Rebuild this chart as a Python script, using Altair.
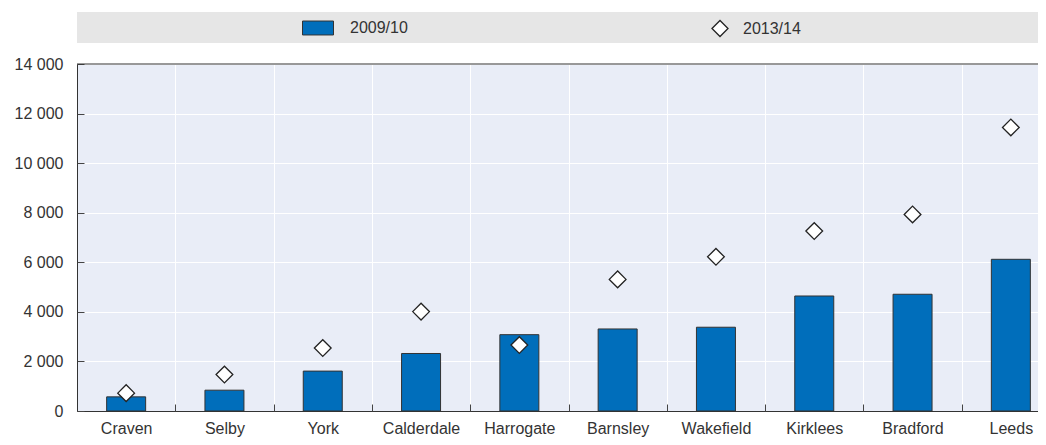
import altair as alt
import pandas as pd

categories = ["Craven", "Selby", "York", "Calderdale", "Harrogate",
              "Barnsley", "Wakefield", "Kirklees", "Bradford", "Leeds"]
values_2009 = [570, 840, 1610, 2320, 3080, 3310, 3380, 4640, 4710, 6120]
values_2013 = [720, 1470, 2540, 4010, 2660, 5310, 6220, 7260, 7930, 11440]
series_names = ["2009/10", "2013/14"]
y_ticks = [0, 2000, 4000, 6000, 8000, 10000, 12000, 14000]

FONT = "Liberation Sans"
BLUE = "#006EBB"
W = 961
H = 347
FULL_W = 983
TOP = 56
BOTTOM = 26

df = pd.DataFrame({
    "cat": categories,
    "v2009": values_2009,
    "v2013": values_2013,
    "s1": series_names[0],
    "s2": series_names[1],
})

xscale = alt.Scale(domain=categories, range=[0, FULL_W], paddingInner=0, paddingOuter=0)
yscale = alt.Scale(domain=[0, 14000], nice=False)
label_expr = "replace(format(datum.value, ','), ',', ' ')"

deco = pd.DataFrame({"a": [0]})
band = alt.Chart(deco).mark_rect(color="#E6E6E6").encode(
    x=alt.value(0), x2=alt.value(W), y=alt.value(-52), y2=alt.value(-21)
)
top_line = alt.Chart(deco).mark_rule(color="#333333", strokeWidth=1).encode(
    x=alt.value(0), x2=alt.value(W), y=alt.value(0)
)

bars = alt.Chart(df).mark_bar(size=39, stroke="#333333", strokeWidth=1).encode(
    x=alt.X("cat:N", scale=xscale, sort=categories,
            axis=alt.Axis(title=None, orient="bottom", tickBand="extent", ticks=False,
                          tickSize=0, labelPadding=9, labelAngle=0,
                          grid=True, gridColor="white", gridWidth=1,
                          domainColor="#333333", labelFont=FONT, labelFontSize=16,
                          labelColor="#333333")),
    y=alt.Y("v2009:Q", scale=yscale,
            axis=alt.Axis(title=None, orient="left", values=y_ticks, ticks=False, tickSize=0,
                          labelPadding=14, labelExpr=label_expr,
                          grid=True, gridColor="white", gridWidth=1,
                          domainColor="#333333", labelFont=FONT, labelFontSize=16,
                          labelColor="#333333")),
    color=alt.Color("s1:N", scale=alt.Scale(domain=[series_names[0]], range=[BLUE]),
                    legend=alt.Legend(title=None, orient="none", legendX=225,
                                      legendY=-36.5 - 15.5,
                                      padding=0,
                                      symbolType="M-1,-0.45L1,-0.45L1,0.45L-1,0.45Z",
                                      symbolSize=961, symbolStrokeColor="#333333",
                                      symbolStrokeWidth=1, labelOffset=16,
                                      labelFont=FONT, labelFontSize=16,
                                      labelColor="#333333")),
)

points = alt.Chart(df).mark_point(shape="diamond", filled=False, fill="white",
                                  fillOpacity=1, strokeWidth=1.3, size=280,
                                  opacity=1).encode(
    x=alt.X("cat:N", scale=xscale, sort=categories,
            axis=alt.Axis(title=None, orient="top", offset=-H, tickBand="extent",
                          labels=False, domain=False, grid=False, ticks=True,
                          tickSize=7, tickColor="#444444")),
    y=alt.Y("v2013:Q", scale=yscale,
            axis=alt.Axis(title=None, orient="right", offset=-W, values=y_ticks,
                          labels=False, domain=False, grid=False, ticks=True,
                          tickSize=7, tickColor="#444444")),
    color=alt.Color("s2:N", scale=alt.Scale(domain=[series_names[1]], range=["#222222"]),
                    legend=alt.Legend(title=None, orient="none", legendX=634,
                                      legendY=-36.5 - 8,
                                      padding=0, symbolType="diamond", symbolSize=256,
                                      symbolFillColor="white",
                                      symbolStrokeWidth=1.3, labelOffset=14,
                                      labelFont=FONT, labelFontSize=16,
                                      labelColor="#333333")),
)

chart = alt.layer(band, bars, points, top_line).resolve_axis(
    x="independent", y="independent"
).resolve_scale(x="shared", y="shared", color="independent").properties(
    width=W, height=H,
    autosize=alt.AutoSizeParams(type="none"),
    padding={"left": 69, "top": TOP, "right": 0, "bottom": BOTTOM},
    background="white",
).configure_view(
    fill="#E9EDF7", strokeWidth=0
)

chart.save("out.html", embed_options={"renderer": "svg", "actions": False})
